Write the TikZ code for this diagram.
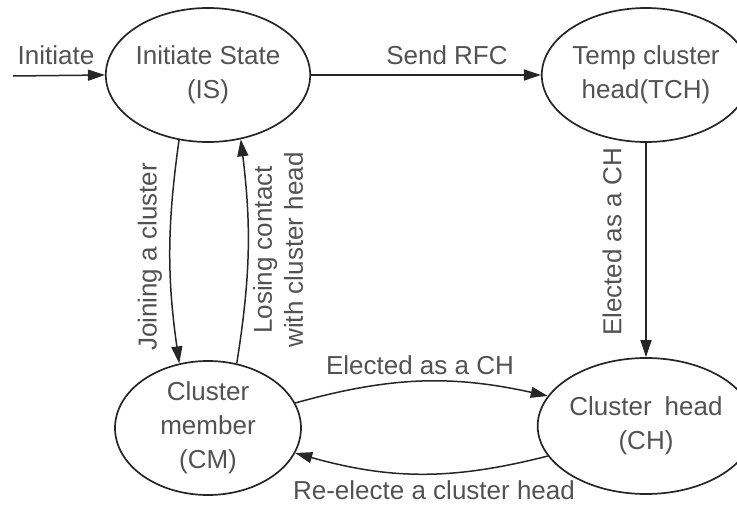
\documentclass[tikz,border=0pt]{standalone}
\usepackage{fontspec}
\setmainfont{Liberation Sans}
\usetikzlibrary{shapes.geometric,arrows.meta}

\begin{document}
\begin{tikzpicture}[x=1pt,y=-1pt,
  state/.style={draw=black!85, line width=1.7pt, ellipse, inner sep=0pt,
    align=center, text=black!68, font=\fontsize{26}{34}\selectfont},
  trans/.style={draw=black!85, line width=1.5pt,
    -{Triangle[length=17pt,width=11pt]}},
  lbl/.style={text=black!68, inner sep=0pt, align=center,
    font=\fontsize{26}{31}\selectfont}]
\useasboundingbox (0,0) rectangle (737,506);

% states
\node[state, minimum width=186pt, minimum height=134pt] (is)  at (208,75)  {Initiate State\\(IS)};
\node[state, minimum width=178pt, minimum height=134pt] (tch) at (646,75)  {Temp cluster\\head(TCH)};
\node[state, minimum width=186pt, minimum height=134pt] (cm)  at (208,428) {Cluster\\member\\(CM)};
\node[state, minimum width=176pt, minimum height=136pt] (ch)  at (646,426) {Cluster\enspace head\\(CH)};

% entry point
\coordinate (start) at (13,76);

% transitions
\draw[trans] (start) -- (is.west);
\draw[trans] (is.east) -- (tch.west);
\draw[trans] (is.246) to[bend right=8] (cm.114);
\draw[trans] (cm.66) to[bend right=8] (is.297);
\draw[trans] (tch.south) -- (ch.north);
\draw[trans] (cm.16) to[bend left=14] (ch.163);
\draw[trans] (ch.197) to[bend left=15] (cm.344);

% transition labels
\node[lbl] (lstart) at (56,55) {Initiate};
\node[lbl] (lrfc)   at (447,55) {Send RFC};
\node[lbl, rotate=90] (ljoin) at (150,257) {Joining a cluster};
\node[lbl, rotate=90] (llose) at (278,250) {Losing contact\\with cluster head};
\node[lbl, rotate=90] (lelv)  at (612,242) {Elected as a CH};
\node[lbl] (lelh) at (420,365) {Elected as a CH};
\node[lbl] (lre)  at (434,490) {Re-electe a cluster head};
\end{tikzpicture}
\end{document}
